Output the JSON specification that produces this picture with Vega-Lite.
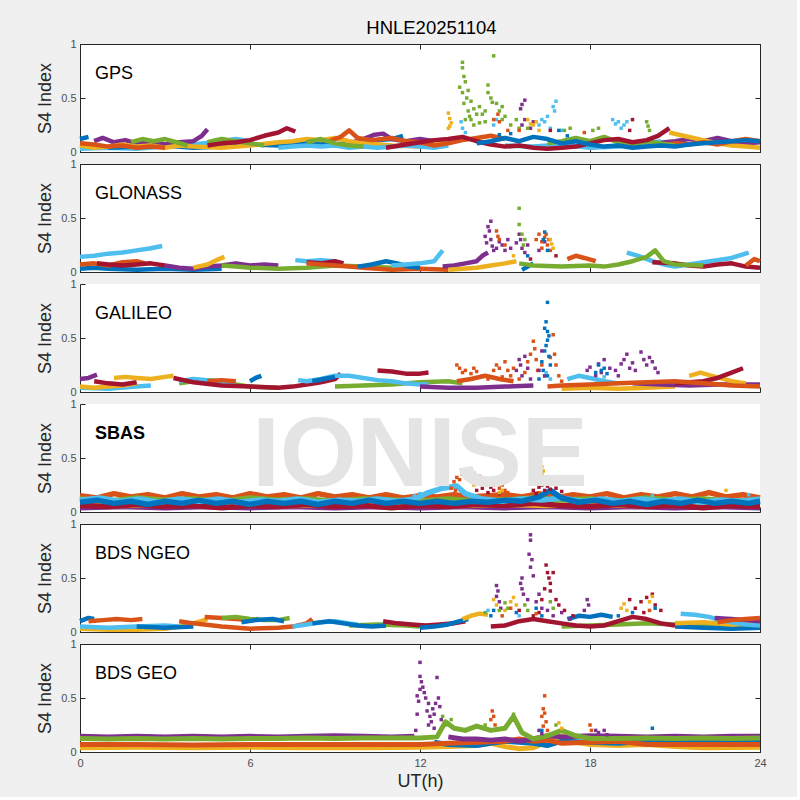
{
"$schema":"https://vega.github.io/schema/vega-lite/v6.json",
"background":"#f0f0f0",
"padding":{"left":36,"top":19,"right":30,"bottom":6},
"bounds":"flush",
"spacing":12,
"title":{"text":"HNLE20251104","fontSize":18.5,"font":"Liberation Sans","fontWeight":"normal","color":"#000000","offset":0,"anchor":"middle","dx":30},
"config":{
 "view":{"fill":"white","stroke":"#262626","strokeWidth":1},
 "font":"Liberation Sans",
 "axis":{"grid":false,"labelFont":"Liberation Sans","labelFontSize":11,"labelColor":"#4d4d4d","titleFont":"Liberation Sans","titleFontSize":18,"titleFontWeight":"normal","titleColor":"#262626","domainColor":"#262626","tickColor":"#262626","labelFlush":false}
},
"datasets":{
"l1":[
{"g":"t","c":6,"t":0,"v":0.03},{"g":"t","c":6,"t":1,"v":0.04},{"g":"t","c":6,"t":2,"v":0.03},{"g":"t","c":6,"t":3,"v":0.05},{"g":"t","c":6,"t":4,"v":0.07},{"g":"t","c":6,"t":5,"v":0.1},{"g":"t","c":6,"t":5.5,"v":0.12},{"g":"t","c":6,"t":6,"v":0.1},
{"g":"q","c":1,"t":1,"v":0.04},{"g":"q","c":1,"t":2,"v":0.05},{"g":"q","c":1,"t":3,"v":0.06},{"g":"q","c":1,"t":4,"v":0.04},{"g":"q","c":1,"t":5,"v":0.05},{"g":"q","c":1,"t":6,"v":0.07},{"g":"q","c":1,"t":7,"v":0.06},{"g":"q","c":1,"t":8,"v":0.08},{"g":"q","c":1,"t":9,"v":0.07},{"g":"q","c":1,"t":10,"v":0.1},{"g":"q","c":1,"t":11,"v":0.12},{"g":"q","c":1,"t":11.4,"v":0.15},
{"g":"a","c":1,"t":0,"v":0.12},{"g":"a","c":1,"t":0.3,"v":0.14},
{"g":"c","c":4,"t":0.5,"v":0.1},{"g":"c","c":4,"t":0.8,"v":0.13},{"g":"c","c":4,"t":1.2,"v":0.09},{"g":"c","c":4,"t":1.6,"v":0.11},{"g":"c","c":4,"t":2,"v":0.08},{"g":"c","c":4,"t":2.5,"v":0.1},{"g":"c","c":4,"t":3,"v":0.07},{"g":"c","c":4,"t":3.5,"v":0.09},{"g":"c","c":4,"t":4,"v":0.1},{"g":"c","c":4,"t":4.3,"v":0.15},{"g":"c","c":4,"t":4.5,"v":0.21},
{"g":"s","c":4,"t":9.5,"v":0.08},{"g":"s","c":4,"t":10,"v":0.12},{"g":"s","c":4,"t":10.4,"v":0.16},{"g":"s","c":4,"t":10.7,"v":0.17},{"g":"s","c":4,"t":11,"v":0.12},{"g":"s","c":4,"t":11.5,"v":0.1},{"g":"s","c":4,"t":12,"v":0.12},{"g":"s","c":4,"t":12.5,"v":0.1},{"g":"s","c":4,"t":13,"v":0.08},
{"g":"d","c":4,"t":20.3,"v":0.08},{"g":"d","c":4,"t":21,"v":0.1},{"g":"d","c":4,"t":21.5,"v":0.12},{"g":"d","c":4,"t":22,"v":0.1},{"g":"d","c":4,"t":22.5,"v":0.13},{"g":"d","c":4,"t":23,"v":0.1},{"g":"d","c":4,"t":23.5,"v":0.08},{"g":"d","c":4,"t":24,"v":0.09},
{"g":"g","c":3,"t":0,"v":0.06},{"g":"g","c":3,"t":0.5,"v":0.04},{"g":"g","c":3,"t":1,"v":0.05},{"g":"g","c":3,"t":1.5,"v":0.07},{"g":"g","c":3,"t":2,"v":0.05},{"g":"g","c":3,"t":2.5,"v":0.06},{"g":"g","c":3,"t":3,"v":0.04},{"g":"g","c":3,"t":3.5,"v":0.06},{"g":"g","c":3,"t":4,"v":0.05},{"g":"g","c":3,"t":5,"v":0.04},{"g":"g","c":3,"t":6,"v":0.06},{"g":"g","c":3,"t":7,"v":0.09},{"g":"g","c":3,"t":7.5,"v":0.1},{"g":"g","c":3,"t":8,"v":0.12},{"g":"g","c":3,"t":8.5,"v":0.11},{"g":"g","c":3,"t":9,"v":0.13},{"g":"g","c":3,"t":9.5,"v":0.1},{"g":"g","c":3,"t":10,"v":0.08},{"g":"g","c":3,"t":11,"v":0.06},{"g":"g","c":3,"t":12,"v":0.05},{"g":"g","c":3,"t":12.5,"v":0.07},{"g":"g","c":3,"t":13,"v":0.09},
{"g":"h","c":3,"t":20.8,"v":0.18},{"g":"h","c":3,"t":21.3,"v":0.15},{"g":"h","c":3,"t":21.8,"v":0.12},{"g":"h","c":3,"t":22.5,"v":0.08},{"g":"h","c":3,"t":23,"v":0.06},{"g":"h","c":3,"t":23.5,"v":0.05},{"g":"h","c":3,"t":24,"v":0.04},
{"g":"i","c":6,"t":7,"v":0.04},{"g":"i","c":6,"t":7.5,"v":0.05},{"g":"i","c":6,"t":8,"v":0.06},{"g":"i","c":6,"t":8.5,"v":0.05},{"g":"i","c":6,"t":9,"v":0.06},{"g":"i","c":6,"t":9.5,"v":0.04},{"g":"i","c":6,"t":10,"v":0.05},{"g":"i","c":6,"t":10.5,"v":0.04},{"g":"i","c":6,"t":11,"v":0.05},{"g":"i","c":6,"t":11.5,"v":0.06},{"g":"i","c":6,"t":12,"v":0.05},{"g":"i","c":6,"t":12.5,"v":0.04},{"g":"i","c":6,"t":13,"v":0.06},
{"g":"p","c":6,"t":15,"v":0.06},{"g":"p","c":6,"t":16,"v":0.05},{"g":"p","c":6,"t":17,"v":0.07},{"g":"p","c":6,"t":18,"v":0.04},{"g":"p","c":6,"t":19,"v":0.05},{"g":"p","c":6,"t":20,"v":0.08},{"g":"p","c":6,"t":20.5,"v":0.1},
{"g":"j","c":2,"t":0,"v":0.08},{"g":"j","c":2,"t":0.5,"v":0.07},{"g":"j","c":2,"t":1,"v":0.05},{"g":"j","c":2,"t":1.5,"v":0.06},{"g":"j","c":2,"t":2,"v":0.04},{"g":"j","c":2,"t":2.5,"v":0.05},{"g":"j","c":2,"t":3,"v":0.04},
{"g":"k","c":2,"t":8.8,"v":0.1},{"g":"k","c":2,"t":9.2,"v":0.14},{"g":"k","c":2,"t":9.5,"v":0.2},{"g":"k","c":2,"t":9.8,"v":0.13},{"g":"k","c":2,"t":10.3,"v":0.11},{"g":"k","c":2,"t":11,"v":0.13},{"g":"k","c":2,"t":11.5,"v":0.1},{"g":"k","c":2,"t":12,"v":0.09},{"g":"k","c":2,"t":12.5,"v":0.06},{"g":"k","c":2,"t":13,"v":0.08},{"g":"k","c":2,"t":13.5,"v":0.11},{"g":"k","c":2,"t":14,"v":0.13},{"g":"k","c":2,"t":14.5,"v":0.15},{"g":"k","c":2,"t":15,"v":0.12},
{"g":"l","c":2,"t":20.5,"v":0.06},{"g":"l","c":2,"t":21,"v":0.08},{"g":"l","c":2,"t":21.5,"v":0.07},{"g":"l","c":2,"t":22,"v":0.09},{"g":"l","c":2,"t":22.5,"v":0.07},{"g":"l","c":2,"t":23,"v":0.1},{"g":"l","c":2,"t":23.5,"v":0.12},{"g":"l","c":2,"t":24,"v":0.1},
{"g":"m","c":5,"t":1.8,"v":0.09},{"g":"m","c":5,"t":2.2,"v":0.12},{"g":"m","c":5,"t":2.6,"v":0.1},{"g":"m","c":5,"t":3,"v":0.12},{"g":"m","c":5,"t":3.4,"v":0.09},{"g":"m","c":5,"t":3.8,"v":0.06},
{"g":"r","c":5,"t":4.5,"v":0.09},{"g":"r","c":5,"t":5,"v":0.12},{"g":"r","c":5,"t":5.5,"v":0.1},{"g":"r","c":5,"t":6,"v":0.08},{"g":"r","c":5,"t":6.5,"v":0.06},
{"g":"n","c":5,"t":8,"v":0.09},{"g":"n","c":5,"t":8.5,"v":0.12},{"g":"n","c":5,"t":9,"v":0.08},{"g":"n","c":5,"t":9.5,"v":0.06},{"g":"n","c":5,"t":10,"v":0.05},
{"g":"o","c":5,"t":16.5,"v":0.08},{"g":"o","c":5,"t":17,"v":0.1},{"g":"o","c":5,"t":17.5,"v":0.13},{"g":"o","c":5,"t":18,"v":0.1},{"g":"o","c":5,"t":18.5,"v":0.14},{"g":"o","c":5,"t":19,"v":0.09},{"g":"o","c":5,"t":19.5,"v":0.07},{"g":"o","c":5,"t":20,"v":0.1},{"g":"o","c":5,"t":20.5,"v":0.08},{"g":"o","c":5,"t":21,"v":0.06},
{"g":"e","c":7,"t":4.5,"v":0.06},{"g":"e","c":7,"t":5,"v":0.08},{"g":"e","c":7,"t":5.5,"v":0.09},{"g":"e","c":7,"t":6,"v":0.11},{"g":"e","c":7,"t":6.5,"v":0.15},{"g":"e","c":7,"t":7,"v":0.18},{"g":"e","c":7,"t":7.3,"v":0.22},{"g":"e","c":7,"t":7.6,"v":0.19},
{"g":"f","c":7,"t":10.8,"v":0.04},{"g":"f","c":7,"t":11.5,"v":0.07},{"g":"f","c":7,"t":12,"v":0.09},{"g":"f","c":7,"t":12.5,"v":0.11},{"g":"f","c":7,"t":13,"v":0.12},{"g":"f","c":7,"t":13.5,"v":0.14},{"g":"f","c":7,"t":14,"v":0.1},{"g":"f","c":7,"t":14.5,"v":0.07},{"g":"f","c":7,"t":15,"v":0.05},{"g":"f","c":7,"t":15.5,"v":0.06},{"g":"f","c":7,"t":16,"v":0.04},{"g":"f","c":7,"t":16.5,"v":0.03},{"g":"f","c":7,"t":17,"v":0.04},{"g":"f","c":7,"t":17.5,"v":0.05},{"g":"f","c":7,"t":18,"v":0.08},{"g":"f","c":7,"t":18.5,"v":0.11},{"g":"f","c":7,"t":19,"v":0.12},{"g":"f","c":7,"t":19.5,"v":0.09},{"g":"f","c":7,"t":20,"v":0.11},{"g":"f","c":7,"t":20.4,"v":0.15},{"g":"f","c":7,"t":20.8,"v":0.22},
{"g":"b","c":1,"t":14,"v":0.08},{"g":"b","c":1,"t":14.5,"v":0.1},{"g":"b","c":1,"t":15,"v":0.13},{"g":"b","c":1,"t":15.5,"v":0.1},{"g":"b","c":1,"t":16,"v":0.14},{"g":"b","c":1,"t":16.5,"v":0.12},{"g":"b","c":1,"t":17,"v":0.08},{"g":"b","c":1,"t":17.5,"v":0.1},{"g":"b","c":1,"t":18,"v":0.07},{"g":"b","c":1,"t":18.5,"v":0.05},{"g":"b","c":1,"t":19,"v":0.06},{"g":"b","c":1,"t":19.5,"v":0.04},{"g":"b","c":1,"t":20,"v":0.05},{"g":"b","c":1,"t":20.5,"v":0.06},{"g":"b","c":1,"t":21,"v":0.05},{"g":"b","c":1,"t":21.5,"v":0.07},{"g":"b","c":1,"t":22,"v":0.08},{"g":"b","c":1,"t":22.5,"v":0.09},{"g":"b","c":1,"t":23,"v":0.1},{"g":"b","c":1,"t":23.5,"v":0.11},{"g":"b","c":1,"t":24,"v":0.1}
],
"p1":[
{"c":3,"t":13.0,"v":0.36},{"c":3,"t":13.05,"v":0.31},{"c":3,"t":13.1,"v":0.27},{"c":3,"t":13.05,"v":0.24},{"c":3,"t":13.0,"v":0.22},
{"c":5,"t":13.5,"v":0.83},{"c":5,"t":13.5,"v":0.78},{"c":5,"t":13.55,"v":0.7},{"c":5,"t":13.6,"v":0.65},{"c":5,"t":13.4,"v":0.6},{"c":5,"t":13.5,"v":0.55},{"c":5,"t":13.7,"v":0.57},{"c":5,"t":13.65,"v":0.5},{"c":5,"t":13.55,"v":0.45},{"c":5,"t":13.8,"v":0.47},{"c":5,"t":13.9,"v":0.4},{"c":5,"t":13.7,"v":0.38},{"c":5,"t":14.0,"v":0.35},{"c":5,"t":13.75,"v":0.33},{"c":5,"t":13.6,"v":0.3},{"c":5,"t":14.1,"v":0.42},{"c":5,"t":14.2,"v":0.35},{"c":5,"t":14.3,"v":0.38},{"c":5,"t":14.4,"v":0.55},{"c":5,"t":14.5,"v":0.5},{"c":5,"t":14.55,"v":0.46},{"c":5,"t":14.6,"v":0.89},{"c":5,"t":14.4,"v":0.62},{"c":5,"t":14.7,"v":0.45},{"c":5,"t":14.8,"v":0.38},{"c":5,"t":14.3,"v":0.28},{"c":5,"t":14.9,"v":0.3},{"c":5,"t":15.0,"v":0.33},{"c":5,"t":14.9,"v":0.42},{"c":5,"t":15.2,"v":0.25},{"c":5,"t":14.1,"v":0.27},{"c":5,"t":13.9,"v":0.25},{"c":5,"t":15.4,"v":0.3},{"c":5,"t":15.5,"v":0.22},{"c":5,"t":13.8,"v":0.3},
{"c":6,"t":13.45,"v":0.28},{"c":6,"t":13.5,"v":0.22},{"c":6,"t":13.6,"v":0.18},{"c":6,"t":14.7,"v":0.3},{"c":6,"t":14.6,"v":0.25},{"c":6,"t":16.3,"v":0.3},{"c":6,"t":16.4,"v":0.28},{"c":6,"t":16.5,"v":0.33},{"c":6,"t":16.2,"v":0.25},{"c":6,"t":16.7,"v":0.42},{"c":6,"t":16.75,"v":0.38},{"c":6,"t":16.8,"v":0.47},{"c":6,"t":18.8,"v":0.3},{"c":6,"t":18.9,"v":0.26},{"c":6,"t":19.0,"v":0.28},{"c":6,"t":19.2,"v":0.25},{"c":6,"t":19.3,"v":0.28},{"c":6,"t":19.1,"v":0.22},{"c":6,"t":17.0,"v":0.2},{"c":6,"t":16.6,"v":0.22},
{"c":2,"t":14.75,"v":0.35},{"c":2,"t":14.6,"v":0.3},{"c":2,"t":14.8,"v":0.28},{"c":2,"t":15.1,"v":0.2},{"c":2,"t":15.5,"v":0.2},{"c":2,"t":17.8,"v":0.18},
{"c":4,"t":15.6,"v":0.44},{"c":4,"t":15.7,"v":0.48},{"c":4,"t":15.55,"v":0.4},{"c":4,"t":15.7,"v":0.3},{"c":4,"t":15.6,"v":0.25},{"c":4,"t":15.9,"v":0.22},{"c":4,"t":16.0,"v":0.28},
{"c":3,"t":15.8,"v":0.3},{"c":3,"t":16.0,"v":0.25},{"c":3,"t":16.2,"v":0.2},{"c":3,"t":16.1,"v":0.28},{"c":3,"t":15.9,"v":0.26},
{"c":7,"t":19.5,"v":0.3},{"c":7,"t":19.4,"v":0.2},{"c":7,"t":16.6,"v":0.2},
{"c":5,"t":15.8,"v":0.22},{"c":5,"t":17.1,"v":0.2},{"c":5,"t":17.3,"v":0.22},{"c":5,"t":18.1,"v":0.2},{"c":5,"t":18.3,"v":0.22},{"c":5,"t":20.0,"v":0.28},{"c":5,"t":20.05,"v":0.24},{"c":5,"t":20.1,"v":0.2},
{"c":1,"t":16.9,"v":0.2},{"c":1,"t":17.2,"v":0.15},{"c":1,"t":15.2,"v":0.17},{"c":1,"t":14.8,"v":0.16}
],
"l2":[
{"g":"a","c":6,"t":0,"v":0.14},{"g":"a","c":6,"t":0.5,"v":0.15},{"g":"a","c":6,"t":1,"v":0.17},{"g":"a","c":6,"t":1.5,"v":0.18},{"g":"a","c":6,"t":2,"v":0.2},{"g":"a","c":6,"t":2.5,"v":0.22},{"g":"a","c":6,"t":2.9,"v":0.24},
{"g":"d","c":1,"t":0,"v":0.03},{"g":"d","c":1,"t":0.5,"v":0.04},{"g":"d","c":1,"t":1,"v":0.03},{"g":"d","c":1,"t":2,"v":0.02},{"g":"d","c":1,"t":3,"v":0.03},{"g":"d","c":1,"t":4,"v":0.02},{"g":"d","c":1,"t":5,"v":0.03},
{"g":"c","c":2,"t":0,"v":0.07},{"g":"c","c":2,"t":0.5,"v":0.08},{"g":"c","c":2,"t":1,"v":0.06},{"g":"c","c":2,"t":1.5,"v":0.09},{"g":"c","c":2,"t":2,"v":0.1},{"g":"c","c":2,"t":2.3,"v":0.08},
{"g":"b","c":7,"t":0.6,"v":0.08},{"g":"b","c":7,"t":1,"v":0.07},{"g":"b","c":7,"t":1.5,"v":0.06},{"g":"b","c":7,"t":2,"v":0.07},{"g":"b","c":7,"t":2.5,"v":0.08},{"g":"b","c":7,"t":3,"v":0.06},
{"g":"e","c":4,"t":3,"v":0.06},{"g":"e","c":4,"t":3.5,"v":0.04},{"g":"e","c":4,"t":4,"v":0.03},{"g":"e","c":4,"t":4.5,"v":0.05},{"g":"e","c":4,"t":5,"v":0.06},{"g":"e","c":4,"t":5.5,"v":0.08},{"g":"e","c":4,"t":6,"v":0.06},{"g":"e","c":4,"t":6.5,"v":0.07},{"g":"e","c":4,"t":7,"v":0.06},
{"g":"f","c":3,"t":4,"v":0.04},{"g":"f","c":3,"t":4.5,"v":0.07},{"g":"f","c":3,"t":4.9,"v":0.12},{"g":"f","c":3,"t":5.1,"v":0.14},
{"g":"g","c":5,"t":5,"v":0.06},{"g":"g","c":5,"t":5.5,"v":0.05},{"g":"g","c":5,"t":6,"v":0.04},{"g":"g","c":5,"t":7,"v":0.03},{"g":"g","c":5,"t":8,"v":0.04},{"g":"g","c":5,"t":9,"v":0.06},{"g":"g","c":5,"t":10,"v":0.05},{"g":"g","c":5,"t":11,"v":0.04},{"g":"g","c":5,"t":12,"v":0.03},
{"g":"h","c":6,"t":7.6,"v":0.11},{"g":"h","c":6,"t":8,"v":0.1},{"g":"h","c":6,"t":8.5,"v":0.11},{"g":"h","c":6,"t":9,"v":0.1},
{"g":"k","c":7,"t":8.0,"v":0.09},{"g":"k","c":7,"t":8.5,"v":0.08},{"g":"k","c":7,"t":9.0,"v":0.1},{"g":"k","c":7,"t":9.3,"v":0.08},
{"g":"i","c":2,"t":8,"v":0.08},{"g":"i","c":2,"t":8.5,"v":0.07},{"g":"i","c":2,"t":9,"v":0.06},{"g":"i","c":2,"t":9.5,"v":0.05},{"g":"i","c":2,"t":10,"v":0.04},{"g":"i","c":2,"t":10.5,"v":0.03},{"g":"i","c":2,"t":11,"v":0.02},{"g":"i","c":2,"t":12,"v":0.03},{"g":"i","c":2,"t":13,"v":0.02},
{"g":"j","c":1,"t":9.8,"v":0.05},{"g":"j","c":1,"t":10.3,"v":0.07},{"g":"j","c":1,"t":10.8,"v":0.1},{"g":"j","c":1,"t":11.2,"v":0.08},{"g":"j","c":1,"t":11.6,"v":0.05},{"g":"j","c":1,"t":12,"v":0.04},
{"g":"l","c":6,"t":11,"v":0.06},{"g":"l","c":6,"t":11.5,"v":0.07},{"g":"l","c":6,"t":12,"v":0.08},{"g":"l","c":6,"t":12.5,"v":0.1},{"g":"l","c":6,"t":12.8,"v":0.2},
{"g":"m","c":4,"t":12.8,"v":0.05},{"g":"m","c":4,"t":13.2,"v":0.06},{"g":"m","c":4,"t":13.6,"v":0.08},{"g":"m","c":4,"t":14,"v":0.1},{"g":"m","c":4,"t":14.2,"v":0.15},{"g":"m","c":4,"t":14.4,"v":0.18},
{"g":"n","c":3,"t":13,"v":0.02},{"g":"n","c":3,"t":14,"v":0.04},{"g":"n","c":3,"t":14.5,"v":0.06},{"g":"n","c":3,"t":15,"v":0.08},{"g":"n","c":3,"t":15.4,"v":0.1},
{"g":"s","c":1,"t":15.6,"v":0.02},{"g":"s","c":1,"t":15.8,"v":0.05},{"g":"s","c":1,"t":16.0,"v":0.08},
{"g":"r","c":2,"t":17.2,"v":0.12},{"g":"r","c":2,"t":17.5,"v":0.15},{"g":"r","c":2,"t":17.8,"v":0.13},{"g":"r","c":2,"t":18.2,"v":0.1},
{"g":"p","c":6,"t":19.3,"v":0.18},{"g":"p","c":6,"t":19.7,"v":0.15},{"g":"p","c":6,"t":20.2,"v":0.1},{"g":"p","c":6,"t":20.6,"v":0.07},{"g":"p","c":6,"t":21,"v":0.05},{"g":"p","c":6,"t":21.5,"v":0.07},{"g":"p","c":6,"t":22,"v":0.09},{"g":"p","c":6,"t":22.5,"v":0.11},{"g":"p","c":6,"t":23,"v":0.13},{"g":"p","c":6,"t":23.6,"v":0.18},
{"g":"q","c":7,"t":20.2,"v":0.09},{"g":"q","c":7,"t":21,"v":0.08},{"g":"q","c":7,"t":21.5,"v":0.06},{"g":"q","c":7,"t":22,"v":0.05},{"g":"q","c":7,"t":22.5,"v":0.07},{"g":"q","c":7,"t":23,"v":0.08},{"g":"q","c":7,"t":23.5,"v":0.05},{"g":"q","c":7,"t":24,"v":0.04},
{"g":"t","c":2,"t":23.5,"v":0.06},{"g":"t","c":2,"t":23.8,"v":0.12},{"g":"t","c":2,"t":24,"v":0.1},
{"g":"o","c":5,"t":15.5,"v":0.08},{"g":"o","c":5,"t":16,"v":0.06},{"g":"o","c":5,"t":17,"v":0.05},{"g":"o","c":5,"t":18,"v":0.06},{"g":"o","c":5,"t":18.5,"v":0.05},{"g":"o","c":5,"t":19,"v":0.07},{"g":"o","c":5,"t":19.5,"v":0.1},{"g":"o","c":5,"t":20,"v":0.14},{"g":"o","c":5,"t":20.3,"v":0.2},{"g":"o","c":5,"t":20.6,"v":0.1},{"g":"o","c":5,"t":21,"v":0.07},{"g":"o","c":5,"t":22,"v":0.06}
],
"p2":[
{"c":4,"t":14.5,"v":0.47},{"c":4,"t":14.4,"v":0.42},{"c":4,"t":14.45,"v":0.38},{"c":4,"t":14.3,"v":0.33},{"c":4,"t":14.5,"v":0.3},{"c":4,"t":14.35,"v":0.27},{"c":4,"t":14.55,"v":0.24},{"c":4,"t":14.6,"v":0.2},{"c":4,"t":14.7,"v":0.22},{"c":4,"t":14.8,"v":0.28},{"c":4,"t":14.9,"v":0.25},{"c":4,"t":15.0,"v":0.2},{"c":4,"t":15.1,"v":0.3},{"c":4,"t":15.2,"v":0.22},{"c":4,"t":15.4,"v":0.27},{"c":4,"t":15.5,"v":0.35},{"c":4,"t":15.55,"v":0.3},{"c":4,"t":15.6,"v":0.22},{"c":4,"t":15.7,"v":0.18},{"c":4,"t":15.8,"v":0.25},{"c":4,"t":16.2,"v":0.2},{"c":4,"t":16.4,"v":0.28},
{"c":2,"t":14.7,"v":0.38},{"c":2,"t":14.75,"v":0.33},{"c":2,"t":14.8,"v":0.3},{"c":2,"t":15.0,"v":0.25},{"c":2,"t":16.1,"v":0.3},{"c":2,"t":16.2,"v":0.35},{"c":2,"t":16.3,"v":0.28},{"c":2,"t":16.4,"v":0.32},{"c":2,"t":16.5,"v":0.25},{"c":2,"t":16.55,"v":0.3},{"c":2,"t":16.6,"v":0.2},{"c":2,"t":16.3,"v":0.22},{"c":2,"t":16.45,"v":0.35},
{"c":5,"t":15.5,"v":0.59},{"c":5,"t":15.5,"v":0.44},{"c":5,"t":15.6,"v":0.35},{"c":5,"t":15.7,"v":0.3},{"c":5,"t":15.65,"v":0.25},
{"c":1,"t":16.4,"v":0.37},{"c":1,"t":16.35,"v":0.3},{"c":1,"t":16.5,"v":0.2},{"c":1,"t":15.8,"v":0.15},
{"c":3,"t":16.6,"v":0.3},{"c":3,"t":16.65,"v":0.26},{"c":3,"t":16.7,"v":0.22},{"c":3,"t":15.3,"v":0.15},
{"c":7,"t":16.8,"v":0.15},{"c":7,"t":15.9,"v":0.12}
],
"l3":[
{"g":"e","c":6,"t":0,"v":0.04},{"g":"e","c":6,"t":1,"v":0.03},{"g":"e","c":6,"t":2,"v":0.05},{"g":"e","c":6,"t":2.5,"v":0.06},
{"g":"d","c":3,"t":0,"v":0.05},{"g":"d","c":3,"t":0.5,"v":0.04},{"g":"d","c":3,"t":1,"v":0.05},{"g":"d","c":3,"t":1.5,"v":0.06},{"g":"d","c":3,"t":2,"v":0.08},
{"g":"a","c":4,"t":0,"v":0.12},{"g":"a","c":4,"t":0.3,"v":0.13},{"g":"a","c":4,"t":0.6,"v":0.16},
{"g":"b","c":7,"t":0.5,"v":0.1},{"g":"b","c":7,"t":1,"v":0.08},{"g":"b","c":7,"t":1.5,"v":0.07},{"g":"b","c":7,"t":2,"v":0.09},
{"g":"c","c":3,"t":1.2,"v":0.13},{"g":"c","c":3,"t":1.6,"v":0.14},{"g":"c","c":3,"t":2,"v":0.13},{"g":"c","c":3,"t":2.5,"v":0.12},{"g":"c","c":3,"t":3,"v":0.14},{"g":"c","c":3,"t":3.3,"v":0.15},
{"g":"g","c":5,"t":3.5,"v":0.08},{"g":"g","c":5,"t":4,"v":0.1},{"g":"g","c":5,"t":4.5,"v":0.11},{"g":"g","c":5,"t":5,"v":0.1},{"g":"g","c":5,"t":5.5,"v":0.07},{"g":"g","c":5,"t":6,"v":0.05},{"g":"g","c":5,"t":7,"v":0.04},
{"g":"h","c":6,"t":3.5,"v":0.1},{"g":"h","c":6,"t":4,"v":0.12},{"g":"h","c":6,"t":4.5,"v":0.11},{"g":"h","c":6,"t":5,"v":0.09},{"g":"h","c":6,"t":5.5,"v":0.08},
{"g":"i","c":2,"t":4.5,"v":0.1},{"g":"i","c":2,"t":5,"v":0.11},{"g":"i","c":2,"t":5.5,"v":0.1},
{"g":"f","c":7,"t":3.3,"v":0.13},{"g":"f","c":7,"t":4,"v":0.09},{"g":"f","c":7,"t":5,"v":0.06},{"g":"f","c":7,"t":6,"v":0.05},{"g":"f","c":7,"t":7,"v":0.04},{"g":"f","c":7,"t":7.5,"v":0.05},{"g":"f","c":7,"t":8,"v":0.07},{"g":"f","c":7,"t":8.5,"v":0.09},{"g":"f","c":7,"t":9,"v":0.12},{"g":"f","c":7,"t":9.2,"v":0.17},
{"g":"j","c":1,"t":6,"v":0.1},{"g":"j","c":1,"t":6.2,"v":0.13},{"g":"j","c":1,"t":6.4,"v":0.15},
{"g":"n","c":5,"t":9,"v":0.05},{"g":"n","c":5,"t":10,"v":0.06},{"g":"n","c":5,"t":11,"v":0.07},{"g":"n","c":5,"t":12,"v":0.09},{"g":"n","c":5,"t":13,"v":0.1},{"g":"n","c":5,"t":13.5,"v":0.08},
{"g":"k","c":6,"t":7.7,"v":0.11},{"g":"k","c":6,"t":8,"v":0.1},{"g":"k","c":6,"t":8.5,"v":0.12},{"g":"k","c":6,"t":9,"v":0.15},{"g":"k","c":6,"t":9.5,"v":0.15},{"g":"k","c":6,"t":10,"v":0.13},{"g":"k","c":6,"t":10.5,"v":0.11},{"g":"k","c":6,"t":11,"v":0.1},{"g":"k","c":6,"t":11.5,"v":0.08},{"g":"k","c":6,"t":12,"v":0.07},{"g":"k","c":6,"t":12.3,"v":0.07},
{"g":"l","c":1,"t":8.2,"v":0.1},{"g":"l","c":1,"t":8.6,"v":0.12},{"g":"l","c":1,"t":9,"v":0.14},
{"g":"m","c":7,"t":10.5,"v":0.2},{"g":"m","c":7,"t":11,"v":0.19},{"g":"m","c":7,"t":11.5,"v":0.17},{"g":"m","c":7,"t":12,"v":0.17},{"g":"m","c":7,"t":12.3,"v":0.18},
{"g":"o","c":4,"t":12,"v":0.05},{"g":"o","c":4,"t":13,"v":0.04},{"g":"o","c":4,"t":14,"v":0.04},{"g":"o","c":4,"t":15,"v":0.05},{"g":"o","c":4,"t":16,"v":0.06},
{"g":"v","c":2,"t":13.3,"v":0.1},{"g":"v","c":2,"t":13.8,"v":0.12},{"g":"v","c":2,"t":14.3,"v":0.15},{"g":"v","c":2,"t":14.8,"v":0.12},{"g":"v","c":2,"t":15.3,"v":0.1},
{"g":"t","c":3,"t":17,"v":0.03},{"g":"t","c":3,"t":18,"v":0.04},{"g":"t","c":3,"t":19,"v":0.03},{"g":"t","c":3,"t":20,"v":0.04},{"g":"t","c":3,"t":21,"v":0.05},
{"g":"u","c":6,"t":17.2,"v":0.12},{"g":"u","c":6,"t":17.6,"v":0.15},{"g":"u","c":6,"t":18,"v":0.13},{"g":"u","c":6,"t":18.5,"v":0.1},{"g":"u","c":6,"t":19,"v":0.08},
{"g":"s","c":4,"t":19.5,"v":0.08},{"g":"s","c":4,"t":20.5,"v":0.07},{"g":"s","c":4,"t":21.5,"v":0.06},{"g":"s","c":4,"t":22.5,"v":0.07},{"g":"s","c":4,"t":23.5,"v":0.07},{"g":"s","c":4,"t":24,"v":0.07},
{"g":"r","c":3,"t":21.5,"v":0.15},{"g":"r","c":3,"t":21.9,"v":0.18},{"g":"r","c":3,"t":22.3,"v":0.15},{"g":"r","c":3,"t":23,"v":0.1},{"g":"r","c":3,"t":23.5,"v":0.08},
{"g":"q","c":7,"t":21,"v":0.08},{"g":"q","c":7,"t":21.5,"v":0.09},{"g":"q","c":7,"t":22,"v":0.1},{"g":"q","c":7,"t":22.5,"v":0.13},{"g":"q","c":7,"t":23,"v":0.18},{"g":"q","c":7,"t":23.4,"v":0.22},
{"g":"p","c":2,"t":16.5,"v":0.05},{"g":"p","c":2,"t":17,"v":0.06},{"g":"p","c":2,"t":18,"v":0.07},{"g":"p","c":2,"t":19,"v":0.08},{"g":"p","c":2,"t":20,"v":0.09},{"g":"p","c":2,"t":21,"v":0.1},{"g":"p","c":2,"t":22,"v":0.08},{"g":"p","c":2,"t":23,"v":0.06},{"g":"p","c":2,"t":24,"v":0.05}
],
"p3":[
{"c":2,"t":13.3,"v":0.25},{"c":2,"t":13.4,"v":0.22},{"c":2,"t":13.5,"v":0.18},{"c":2,"t":13.6,"v":0.2},{"c":2,"t":13.8,"v":0.17},{"c":2,"t":13.9,"v":0.22},{"c":2,"t":14.0,"v":0.19},{"c":2,"t":14.2,"v":0.15},{"c":2,"t":14.4,"v":0.12},{"c":2,"t":14.6,"v":0.2},{"c":2,"t":14.7,"v":0.25},{"c":2,"t":14.8,"v":0.22},{"c":2,"t":14.9,"v":0.14},{"c":2,"t":15.0,"v":0.28},{"c":2,"t":15.1,"v":0.2},{"c":2,"t":15.2,"v":0.15},{"c":2,"t":15.3,"v":0.22},{"c":2,"t":15.5,"v":0.12},{"c":2,"t":15.7,"v":0.18},{"c":2,"t":15.8,"v":0.28},{"c":2,"t":15.9,"v":0.35},{"c":2,"t":16.0,"v":0.47},{"c":2,"t":16.05,"v":0.4},{"c":2,"t":16.1,"v":0.3},{"c":2,"t":16.15,"v":0.2},{"c":2,"t":16.3,"v":0.25},{"c":2,"t":16.4,"v":0.15},{"c":2,"t":16.6,"v":0.32},{"c":2,"t":16.7,"v":0.53},{"c":2,"t":16.75,"v":0.35},{"c":2,"t":16.8,"v":0.25},{"c":2,"t":16.9,"v":0.15},{"c":2,"t":17.0,"v":0.1},
{"c":4,"t":15.4,"v":0.2},{"c":4,"t":15.5,"v":0.3},{"c":4,"t":15.55,"v":0.25},{"c":4,"t":15.6,"v":0.15},{"c":4,"t":15.7,"v":0.33},{"c":4,"t":15.8,"v":0.22},{"c":4,"t":15.9,"v":0.12},{"c":4,"t":16.2,"v":0.2},{"c":4,"t":16.3,"v":0.38},{"c":4,"t":16.4,"v":0.15},{"c":4,"t":17.9,"v":0.2},{"c":4,"t":18.0,"v":0.23},{"c":4,"t":18.2,"v":0.15},{"c":4,"t":18.3,"v":0.26},{"c":4,"t":18.4,"v":0.18},{"c":4,"t":18.5,"v":0.3},{"c":4,"t":18.7,"v":0.22},{"c":4,"t":18.9,"v":0.2},{"c":4,"t":19.1,"v":0.26},{"c":4,"t":19.2,"v":0.3},{"c":4,"t":19.3,"v":0.35},{"c":4,"t":19.4,"v":0.22},{"c":4,"t":19.5,"v":0.27},{"c":4,"t":19.6,"v":0.2},{"c":4,"t":19.8,"v":0.37},{"c":4,"t":19.9,"v":0.3},{"c":4,"t":20.0,"v":0.25},{"c":4,"t":20.1,"v":0.32},{"c":4,"t":20.2,"v":0.28},{"c":4,"t":20.3,"v":0.22},{"c":4,"t":20.4,"v":0.18},{"c":4,"t":19.0,"v":0.15},
{"c":1,"t":16.5,"v":0.83},{"c":1,"t":16.45,"v":0.65},{"c":1,"t":16.4,"v":0.59},{"c":1,"t":16.5,"v":0.56},{"c":1,"t":16.55,"v":0.52},{"c":1,"t":16.5,"v":0.48},{"c":1,"t":16.45,"v":0.43},{"c":1,"t":16.4,"v":0.38},{"c":1,"t":16.55,"v":0.33},{"c":1,"t":16.3,"v":0.28},{"c":1,"t":16.6,"v":0.25},{"c":1,"t":16.35,"v":0.2},{"c":1,"t":16.5,"v":0.15},{"c":1,"t":16.2,"v":0.12},{"c":1,"t":18.3,"v":0.25},{"c":1,"t":18.4,"v":0.2},{"c":1,"t":18.5,"v":0.22},{"c":1,"t":18.6,"v":0.17},{"c":1,"t":18.2,"v":0.18},
{"c":6,"t":16.45,"v":0.18},{"c":6,"t":16.6,"v":0.12},{"c":6,"t":18.2,"v":0.12},{"c":6,"t":18.5,"v":0.14}
],
"l4":[
{"g":"f","c":4,"t":0,"v":0.04},{"g":"f","c":4,"t":1.5,"v":0.05},{"g":"f","c":4,"t":3,"v":0.04},{"g":"f","c":4,"t":4.5,"v":0.05},{"g":"f","c":4,"t":6,"v":0.04},{"g":"f","c":4,"t":7.5,"v":0.05},{"g":"f","c":4,"t":9,"v":0.04},{"g":"f","c":4,"t":10.5,"v":0.05},{"g":"f","c":4,"t":12,"v":0.04},{"g":"f","c":4,"t":13.5,"v":0.05},{"g":"f","c":4,"t":15,"v":0.04},{"g":"f","c":4,"t":16.5,"v":0.05},{"g":"f","c":4,"t":18,"v":0.04},{"g":"f","c":4,"t":19.5,"v":0.05},{"g":"f","c":4,"t":21,"v":0.04},{"g":"f","c":4,"t":22.5,"v":0.05},{"g":"f","c":4,"t":24,"v":0.04},
{"g":"g","c":3,"t":0,"v":0.07},{"g":"g","c":3,"t":1.5,"v":0.06},{"g":"g","c":3,"t":3,"v":0.07},{"g":"g","c":3,"t":4.5,"v":0.06},{"g":"g","c":3,"t":6,"v":0.07},{"g":"g","c":3,"t":7.5,"v":0.06},{"g":"g","c":3,"t":9,"v":0.07},{"g":"g","c":3,"t":10.5,"v":0.06},{"g":"g","c":3,"t":12,"v":0.07},{"g":"g","c":3,"t":13.5,"v":0.06},{"g":"g","c":3,"t":15,"v":0.07},{"g":"g","c":3,"t":16.5,"v":0.06},{"g":"g","c":3,"t":18,"v":0.07},{"g":"g","c":3,"t":19.5,"v":0.06},{"g":"g","c":3,"t":21,"v":0.07},{"g":"g","c":3,"t":22.5,"v":0.06},{"g":"g","c":3,"t":24,"v":0.07},
{"g":"e","c":7,"t":0,"v":0.06},{"g":"e","c":7,"t":1,"v":0.05},{"g":"e","c":7,"t":2,"v":0.07},{"g":"e","c":7,"t":3,"v":0.05},{"g":"e","c":7,"t":4,"v":0.06},{"g":"e","c":7,"t":5,"v":0.04},{"g":"e","c":7,"t":6,"v":0.06},{"g":"e","c":7,"t":7,"v":0.05},{"g":"e","c":7,"t":8,"v":0.07},{"g":"e","c":7,"t":9,"v":0.05},{"g":"e","c":7,"t":10,"v":0.06},{"g":"e","c":7,"t":11,"v":0.04},{"g":"e","c":7,"t":12,"v":0.06},{"g":"e","c":7,"t":13,"v":0.05},{"g":"e","c":7,"t":14,"v":0.07},{"g":"e","c":7,"t":15,"v":0.06},{"g":"e","c":7,"t":16,"v":0.08},{"g":"e","c":7,"t":17,"v":0.06},{"g":"e","c":7,"t":18,"v":0.05},{"g":"e","c":7,"t":19,"v":0.07},{"g":"e","c":7,"t":20,"v":0.05},{"g":"e","c":7,"t":21,"v":0.06},{"g":"e","c":7,"t":22,"v":0.04},{"g":"e","c":7,"t":23,"v":0.06},{"g":"e","c":7,"t":24,"v":0.05},
{"g":"a","c":2,"t":0,"v":0.15},{"g":"a","c":2,"t":0.6,"v":0.13},{"g":"a","c":2,"t":1.2,"v":0.17},{"g":"a","c":2,"t":1.8,"v":0.14},{"g":"a","c":2,"t":2.4,"v":0.16},{"g":"a","c":2,"t":3,"v":0.13},{"g":"a","c":2,"t":3.6,"v":0.17},{"g":"a","c":2,"t":4.2,"v":0.14},{"g":"a","c":2,"t":4.8,"v":0.16},{"g":"a","c":2,"t":5.4,"v":0.13},{"g":"a","c":2,"t":6,"v":0.17},{"g":"a","c":2,"t":6.6,"v":0.14},{"g":"a","c":2,"t":7.2,"v":0.16},{"g":"a","c":2,"t":7.8,"v":0.13},{"g":"a","c":2,"t":8.4,"v":0.17},{"g":"a","c":2,"t":9,"v":0.14},{"g":"a","c":2,"t":9.6,"v":0.16},{"g":"a","c":2,"t":10.2,"v":0.13},{"g":"a","c":2,"t":10.8,"v":0.16},{"g":"a","c":2,"t":11.4,"v":0.13},{"g":"a","c":2,"t":12,"v":0.15},{"g":"a","c":2,"t":12.6,"v":0.14},{"g":"a","c":2,"t":13.2,"v":0.16},{"g":"a","c":2,"t":13.8,"v":0.14},{"g":"a","c":2,"t":14.4,"v":0.15},{"g":"a","c":2,"t":15,"v":0.16},{"g":"a","c":2,"t":15.6,"v":0.14},{"g":"a","c":2,"t":16.2,"v":0.17},{"g":"a","c":2,"t":16.8,"v":0.13},{"g":"a","c":2,"t":17.4,"v":0.16},{"g":"a","c":2,"t":18,"v":0.14},{"g":"a","c":2,"t":18.6,"v":0.17},{"g":"a","c":2,"t":19.2,"v":0.13},{"g":"a","c":2,"t":19.8,"v":0.16},{"g":"a","c":2,"t":20.4,"v":0.14},{"g":"a","c":2,"t":21,"v":0.17},{"g":"a","c":2,"t":21.6,"v":0.14},{"g":"a","c":2,"t":22.2,"v":0.18},{"g":"a","c":2,"t":22.8,"v":0.14},{"g":"a","c":2,"t":23.4,"v":0.16},{"g":"a","c":2,"t":24,"v":0.13},
{"g":"b","c":5,"t":0,"v":0.12},{"g":"b","c":5,"t":1,"v":0.1},{"g":"b","c":5,"t":2,"v":0.13},{"g":"b","c":5,"t":3,"v":0.11},{"g":"b","c":5,"t":4,"v":0.12},{"g":"b","c":5,"t":5,"v":0.1},{"g":"b","c":5,"t":6,"v":0.13},{"g":"b","c":5,"t":7,"v":0.11},{"g":"b","c":5,"t":8,"v":0.12},{"g":"b","c":5,"t":9,"v":0.1},{"g":"b","c":5,"t":10,"v":0.12},{"g":"b","c":5,"t":11,"v":0.11},{"g":"b","c":5,"t":12,"v":0.1},{"g":"b","c":5,"t":13,"v":0.12},{"g":"b","c":5,"t":14,"v":0.1},{"g":"b","c":5,"t":15,"v":0.11},{"g":"b","c":5,"t":16,"v":0.13},{"g":"b","c":5,"t":17,"v":0.11},{"g":"b","c":5,"t":18,"v":0.12},{"g":"b","c":5,"t":19,"v":0.1},{"g":"b","c":5,"t":20,"v":0.13},{"g":"b","c":5,"t":21,"v":0.11},{"g":"b","c":5,"t":22,"v":0.12},{"g":"b","c":5,"t":23,"v":0.1},{"g":"b","c":5,"t":24,"v":0.11},
{"g":"c","c":6,"t":0,"v":0.11},{"g":"c","c":6,"t":0.7,"v":0.13},{"g":"c","c":6,"t":1.4,"v":0.1},{"g":"c","c":6,"t":2.1,"v":0.12},{"g":"c","c":6,"t":2.8,"v":0.09},{"g":"c","c":6,"t":3.5,"v":0.12},{"g":"c","c":6,"t":4.2,"v":0.1},{"g":"c","c":6,"t":4.9,"v":0.12},{"g":"c","c":6,"t":5.6,"v":0.09},{"g":"c","c":6,"t":6.3,"v":0.11},{"g":"c","c":6,"t":7,"v":0.1},{"g":"c","c":6,"t":7.7,"v":0.12},{"g":"c","c":6,"t":8.4,"v":0.09},{"g":"c","c":6,"t":9.1,"v":0.11},{"g":"c","c":6,"t":9.8,"v":0.1},{"g":"c","c":6,"t":10.5,"v":0.12},{"g":"c","c":6,"t":11.2,"v":0.1},{"g":"c","c":6,"t":11.8,"v":0.12},{"g":"c","c":6,"t":12.3,"v":0.18},{"g":"c","c":6,"t":12.8,"v":0.22},{"g":"c","c":6,"t":13.3,"v":0.24},{"g":"c","c":6,"t":13.6,"v":0.17},{"g":"c","c":6,"t":14.2,"v":0.12},{"g":"c","c":6,"t":14.9,"v":0.1},{"g":"c","c":6,"t":15.6,"v":0.12},{"g":"c","c":6,"t":16.3,"v":0.11},{"g":"c","c":6,"t":17,"v":0.13},{"g":"c","c":6,"t":17.7,"v":0.1},{"g":"c","c":6,"t":18.4,"v":0.12},{"g":"c","c":6,"t":19.1,"v":0.1},{"g":"c","c":6,"t":19.8,"v":0.12},{"g":"c","c":6,"t":20.5,"v":0.1},{"g":"c","c":6,"t":21.2,"v":0.12},{"g":"c","c":6,"t":21.9,"v":0.09},{"g":"c","c":6,"t":22.6,"v":0.11},{"g":"c","c":6,"t":23.3,"v":0.1},{"g":"c","c":6,"t":24,"v":0.12},
{"g":"d","c":1,"t":0,"v":0.09},{"g":"d","c":1,"t":0.6,"v":0.11},{"g":"d","c":1,"t":1.2,"v":0.08},{"g":"d","c":1,"t":1.8,"v":0.1},{"g":"d","c":1,"t":2.4,"v":0.07},{"g":"d","c":1,"t":3,"v":0.1},{"g":"d","c":1,"t":3.6,"v":0.08},{"g":"d","c":1,"t":4.2,"v":0.11},{"g":"d","c":1,"t":4.8,"v":0.08},{"g":"d","c":1,"t":5.4,"v":0.1},{"g":"d","c":1,"t":6,"v":0.07},{"g":"d","c":1,"t":6.6,"v":0.1},{"g":"d","c":1,"t":7.2,"v":0.08},{"g":"d","c":1,"t":7.8,"v":0.1},{"g":"d","c":1,"t":8.4,"v":0.07},{"g":"d","c":1,"t":9,"v":0.1},{"g":"d","c":1,"t":9.6,"v":0.08},{"g":"d","c":1,"t":10.2,"v":0.11},{"g":"d","c":1,"t":10.8,"v":0.08},{"g":"d","c":1,"t":11.4,"v":0.1},{"g":"d","c":1,"t":12,"v":0.08},{"g":"d","c":1,"t":12.6,"v":0.1},{"g":"d","c":1,"t":13.2,"v":0.08},{"g":"d","c":1,"t":13.8,"v":0.1},{"g":"d","c":1,"t":14.4,"v":0.09},{"g":"d","c":1,"t":15,"v":0.11},{"g":"d","c":1,"t":15.6,"v":0.1},{"g":"d","c":1,"t":16.2,"v":0.14},{"g":"d","c":1,"t":16.6,"v":0.2},{"g":"d","c":1,"t":17,"v":0.13},{"g":"d","c":1,"t":17.6,"v":0.09},{"g":"d","c":1,"t":18.2,"v":0.11},{"g":"d","c":1,"t":18.8,"v":0.08},{"g":"d","c":1,"t":19.4,"v":0.1},{"g":"d","c":1,"t":20,"v":0.07},{"g":"d","c":1,"t":20.6,"v":0.1},{"g":"d","c":1,"t":21.2,"v":0.08},{"g":"d","c":1,"t":21.8,"v":0.11},{"g":"d","c":1,"t":22.4,"v":0.08},{"g":"d","c":1,"t":23,"v":0.1},{"g":"d","c":1,"t":23.6,"v":0.08},{"g":"d","c":1,"t":24,"v":0.1}
],
"p4":[
{"c":2,"t":13.2,"v":0.28},{"c":2,"t":13.3,"v":0.32},{"c":2,"t":13.4,"v":0.3},{"c":2,"t":13.5,"v":0.35},{"c":2,"t":13.6,"v":0.33},{"c":2,"t":13.7,"v":0.37},{"c":2,"t":13.8,"v":0.34},{"c":2,"t":13.9,"v":0.36},{"c":2,"t":14.0,"v":0.3},{"c":2,"t":14.1,"v":0.33},{"c":2,"t":14.2,"v":0.28},{"c":2,"t":14.3,"v":0.3},{"c":2,"t":14.4,"v":0.26},{"c":2,"t":14.5,"v":0.3},{"c":2,"t":14.6,"v":0.25},{"c":2,"t":14.7,"v":0.27},{"c":2,"t":14.8,"v":0.22},{"c":2,"t":14.9,"v":0.25},{"c":2,"t":15.0,"v":0.2},{"c":2,"t":13.1,"v":0.22},{"c":2,"t":13.25,"v":0.2},{"c":2,"t":15.1,"v":0.18},
{"c":7,"t":14.0,"v":0.2},{"c":7,"t":14.2,"v":0.22},{"c":7,"t":14.4,"v":0.18},{"c":7,"t":14.5,"v":0.23},{"c":7,"t":14.6,"v":0.2},{"c":7,"t":14.8,"v":0.17},{"c":7,"t":16.0,"v":0.2},{"c":7,"t":16.2,"v":0.23},{"c":7,"t":16.3,"v":0.25},{"c":7,"t":16.4,"v":0.2},{"c":7,"t":16.5,"v":0.24},{"c":7,"t":16.6,"v":0.21},{"c":7,"t":16.8,"v":0.22},{"c":7,"t":17.0,"v":0.19},{"c":7,"t":16.1,"v":0.17},
{"c":3,"t":16.3,"v":0.42},{"c":3,"t":16.35,"v":0.38},{"c":3,"t":16.3,"v":0.35},{"c":3,"t":14.9,"v":0.2},{"c":3,"t":14.8,"v":0.18},{"c":3,"t":13.9,"v":0.25},{"c":3,"t":22.8,"v":0.2},
{"c":6,"t":11.8,"v":0.15},{"c":6,"t":12.0,"v":0.17},{"c":6,"t":23.6,"v":0.16},{"c":6,"t":20.2,"v":0.15}
],
"l5":[
{"g":"d","c":3,"t":0,"v":0.03},{"g":"d","c":3,"t":1,"v":0.02},{"g":"d","c":3,"t":2,"v":0.02},{"g":"d","c":3,"t":3,"v":0.03},{"g":"d","c":3,"t":3.5,"v":0.05},{"g":"d","c":3,"t":4,"v":0.08},{"g":"d","c":3,"t":4.5,"v":0.12},
{"g":"c","c":6,"t":0,"v":0.05},{"g":"c","c":6,"t":1,"v":0.04},{"g":"c","c":6,"t":2,"v":0.05},{"g":"c","c":6,"t":3,"v":0.06},{"g":"c","c":6,"t":3.5,"v":0.05},
{"g":"a","c":1,"t":0,"v":0.1},{"g":"a","c":1,"t":0.3,"v":0.13},{"g":"a","c":1,"t":0.5,"v":0.12},
{"g":"b","c":2,"t":0.3,"v":0.1},{"g":"b","c":2,"t":0.8,"v":0.11},{"g":"b","c":2,"t":1.3,"v":0.12},{"g":"b","c":2,"t":1.8,"v":0.11},{"g":"b","c":2,"t":2.2,"v":0.12},
{"g":"e","c":1,"t":2,"v":0.05},{"g":"e","c":1,"t":3,"v":0.04},{"g":"e","c":1,"t":4,"v":0.05},
{"g":"f","c":2,"t":3.5,"v":0.1},{"g":"f","c":2,"t":4,"v":0.08},{"g":"f","c":2,"t":5,"v":0.05},{"g":"f","c":2,"t":6,"v":0.03},{"g":"f","c":2,"t":7,"v":0.04},{"g":"f","c":2,"t":7.5,"v":0.05},{"g":"f","c":2,"t":8,"v":0.08},{"g":"f","c":2,"t":8.2,"v":0.12},
{"g":"g","c":2,"t":4.4,"v":0.14},{"g":"g","c":2,"t":5,"v":0.13},{"g":"g","c":2,"t":5.5,"v":0.12},{"g":"g","c":2,"t":6,"v":0.11},{"g":"g","c":2,"t":6.3,"v":0.12},
{"g":"h","c":5,"t":5,"v":0.13},{"g":"h","c":5,"t":5.5,"v":0.14},{"g":"h","c":5,"t":6,"v":0.12},{"g":"h","c":5,"t":6.5,"v":0.11},{"g":"h","c":5,"t":7,"v":0.11},{"g":"h","c":5,"t":7.4,"v":0.13},
{"g":"i","c":1,"t":5.7,"v":0.09},{"g":"i","c":1,"t":6.2,"v":0.11},{"g":"i","c":1,"t":6.8,"v":0.12},{"g":"i","c":1,"t":7.2,"v":0.1},
{"g":"j","c":6,"t":7.5,"v":0.05},{"g":"j","c":6,"t":8,"v":0.07},{"g":"j","c":6,"t":8.5,"v":0.09},{"g":"j","c":6,"t":9,"v":0.1},{"g":"j","c":6,"t":9.5,"v":0.08},{"g":"j","c":6,"t":9.8,"v":0.07},
{"g":"n","c":5,"t":9.5,"v":0.06},{"g":"n","c":5,"t":10.5,"v":0.07},{"g":"n","c":5,"t":11.5,"v":0.06},{"g":"n","c":5,"t":12,"v":0.05},
{"g":"k","c":1,"t":8.2,"v":0.08},{"g":"k","c":1,"t":8.8,"v":0.1},{"g":"k","c":1,"t":9.3,"v":0.08},{"g":"k","c":1,"t":9.8,"v":0.06},{"g":"k","c":1,"t":10.3,"v":0.05},{"g":"k","c":1,"t":10.8,"v":0.06},
{"g":"l","c":7,"t":10.7,"v":0.1},{"g":"l","c":7,"t":11.2,"v":0.08},{"g":"l","c":7,"t":11.7,"v":0.07},{"g":"l","c":7,"t":12.2,"v":0.06},{"g":"l","c":7,"t":12.7,"v":0.07},{"g":"l","c":7,"t":13.2,"v":0.08},{"g":"l","c":7,"t":13.6,"v":0.1},
{"g":"m","c":1,"t":12,"v":0.04},{"g":"m","c":1,"t":12.5,"v":0.05},{"g":"m","c":1,"t":13,"v":0.07},{"g":"m","c":1,"t":13.4,"v":0.1},{"g":"m","c":1,"t":13.7,"v":0.12},
{"g":"o","c":3,"t":13.5,"v":0.12},{"g":"o","c":3,"t":13.8,"v":0.15},{"g":"o","c":3,"t":14.1,"v":0.17},{"g":"o","c":3,"t":14.4,"v":0.16},
{"g":"r","c":5,"t":17,"v":0.05},{"g":"r","c":5,"t":18,"v":0.06},{"g":"r","c":5,"t":19,"v":0.07},{"g":"r","c":5,"t":20,"v":0.08},{"g":"r","c":5,"t":21,"v":0.07},{"g":"r","c":5,"t":22,"v":0.06},{"g":"r","c":5,"t":23,"v":0.05},{"g":"r","c":5,"t":24,"v":0.06},
{"g":"w","c":1,"t":21,"v":0.05},{"g":"w","c":1,"t":22,"v":0.04},{"g":"w","c":1,"t":23,"v":0.03},{"g":"w","c":1,"t":24,"v":0.04},
{"g":"v","c":3,"t":21,"v":0.08},{"g":"v","c":3,"t":22,"v":0.09},{"g":"v","c":3,"t":23,"v":0.07},{"g":"v","c":3,"t":24,"v":0.08},
{"g":"p","c":7,"t":14.5,"v":0.05},{"g":"p","c":7,"t":15,"v":0.06},{"g":"p","c":7,"t":15.5,"v":0.1},{"g":"p","c":7,"t":16,"v":0.12},{"g":"p","c":7,"t":16.5,"v":0.1},{"g":"p","c":7,"t":17,"v":0.08},{"g":"p","c":7,"t":17.5,"v":0.06},{"g":"p","c":7,"t":18,"v":0.05},{"g":"p","c":7,"t":18.5,"v":0.06},{"g":"p","c":7,"t":19,"v":0.1},{"g":"p","c":7,"t":19.5,"v":0.14},{"g":"p","c":7,"t":20,"v":0.12},{"g":"p","c":7,"t":20.5,"v":0.08},{"g":"p","c":7,"t":21,"v":0.06},
{"g":"q","c":1,"t":17.2,"v":0.12},{"g":"q","c":1,"t":17.6,"v":0.15},{"g":"q","c":1,"t":18,"v":0.14},{"g":"q","c":1,"t":18.4,"v":0.16},{"g":"q","c":1,"t":18.8,"v":0.14},
{"g":"s","c":6,"t":21.2,"v":0.17},{"g":"s","c":6,"t":21.7,"v":0.16},{"g":"s","c":6,"t":22.2,"v":0.14},{"g":"s","c":6,"t":22.6,"v":0.11},{"g":"s","c":6,"t":23,"v":0.09},{"g":"s","c":6,"t":23.5,"v":0.07},{"g":"s","c":6,"t":24,"v":0.06},
{"g":"t","c":4,"t":22.4,"v":0.13},{"g":"t","c":4,"t":23,"v":0.12},{"g":"t","c":4,"t":23.5,"v":0.11},{"g":"t","c":4,"t":24,"v":0.1},
{"g":"u","c":2,"t":22.5,"v":0.09},{"g":"u","c":2,"t":23,"v":0.11},{"g":"u","c":2,"t":23.5,"v":0.12},{"g":"u","c":2,"t":24,"v":0.13}
],
"p5":[
{"c":4,"t":14.7,"v":0.43},{"c":4,"t":14.75,"v":0.38},{"c":4,"t":14.7,"v":0.33},{"c":4,"t":14.8,"v":0.28},{"c":4,"t":14.85,"v":0.22},{"c":4,"t":15.6,"v":0.5},{"c":4,"t":15.55,"v":0.45},{"c":4,"t":15.6,"v":0.4},{"c":4,"t":15.65,"v":0.35},{"c":4,"t":15.9,"v":0.9},{"c":4,"t":15.9,"v":0.85},{"c":4,"t":15.85,"v":0.72},{"c":4,"t":15.95,"v":0.67},{"c":4,"t":15.9,"v":0.6},{"c":4,"t":16.0,"v":0.52},{"c":4,"t":15.8,"v":0.3},{"c":4,"t":16.1,"v":0.28},{"c":4,"t":16.2,"v":0.35},{"c":4,"t":16.3,"v":0.22},{"c":4,"t":16.5,"v":0.2},{"c":4,"t":17.9,"v":0.3},{"c":4,"t":17.95,"v":0.25},{"c":4,"t":17.8,"v":0.2},{"c":4,"t":16.7,"v":0.15},{"c":4,"t":17.0,"v":0.18},{"c":4,"t":17.3,"v":0.12},
{"c":7,"t":16.45,"v":0.62},{"c":7,"t":16.5,"v":0.55},{"c":7,"t":16.55,"v":0.5},{"c":7,"t":16.6,"v":0.45},{"c":7,"t":16.7,"v":0.55},{"c":7,"t":16.6,"v":0.38},{"c":7,"t":16.4,"v":0.4},{"c":7,"t":16.8,"v":0.3},{"c":7,"t":16.9,"v":0.25},{"c":7,"t":16.3,"v":0.3},{"c":7,"t":16.2,"v":0.18},{"c":7,"t":17.1,"v":0.2},{"c":7,"t":17.4,"v":0.15},{"c":7,"t":16.0,"v":0.15},{"c":7,"t":15.5,"v":0.2},{"c":7,"t":19.4,"v":0.3},{"c":7,"t":19.6,"v":0.22},{"c":7,"t":19.8,"v":0.28},{"c":7,"t":20.0,"v":0.32},{"c":7,"t":20.2,"v":0.35},{"c":7,"t":20.3,"v":0.25},{"c":7,"t":19.9,"v":0.18},{"c":7,"t":20.5,"v":0.2},
{"c":3,"t":14.6,"v":0.3},{"c":3,"t":14.7,"v":0.25},{"c":3,"t":15.2,"v":0.28},{"c":3,"t":15.3,"v":0.32},{"c":3,"t":15.4,"v":0.25},{"c":3,"t":15.0,"v":0.2},{"c":3,"t":19.2,"v":0.26},{"c":3,"t":19.1,"v":0.22},{"c":3,"t":19.3,"v":0.2},{"c":3,"t":20.2,"v":0.33},{"c":3,"t":20.1,"v":0.28},
{"c":5,"t":14.8,"v":0.2},{"c":5,"t":15.0,"v":0.27},{"c":5,"t":15.1,"v":0.22},{"c":5,"t":15.7,"v":0.25},{"c":5,"t":15.8,"v":0.2},{"c":5,"t":16.6,"v":0.28},{"c":5,"t":16.7,"v":0.22},{"c":5,"t":14.3,"v":0.18},
{"c":1,"t":14.5,"v":0.15},{"c":1,"t":14.6,"v":0.2},{"c":1,"t":15.4,"v":0.18},{"c":1,"t":16.1,"v":0.22},{"c":1,"t":16.3,"v":0.15},{"c":1,"t":19.0,"v":0.15},{"c":1,"t":19.5,"v":0.18},{"c":1,"t":20.3,"v":0.22},
{"c":2,"t":14.9,"v":0.15},{"c":2,"t":15.2,"v":0.22},{"c":2,"t":16.1,"v":0.17},{"c":2,"t":20.1,"v":0.2},
{"c":6,"t":14.4,"v":0.2},{"c":6,"t":15.5,"v":0.15}
],
"l6":[
{"g":"f","c":3,"t":0,"v":0.04},{"g":"f","c":3,"t":2,"v":0.045},{"g":"f","c":3,"t":4,"v":0.04},{"g":"f","c":3,"t":6,"v":0.045},{"g":"f","c":3,"t":8,"v":0.04},{"g":"f","c":3,"t":10,"v":0.04},{"g":"f","c":3,"t":12,"v":0.045},{"g":"f","c":3,"t":13,"v":0.05},{"g":"f","c":3,"t":14,"v":0.06},{"g":"f","c":3,"t":14.5,"v":0.08},{"g":"f","c":3,"t":15,"v":0.05},{"g":"f","c":3,"t":15.5,"v":0.03},{"g":"f","c":3,"t":16,"v":0.04},{"g":"f","c":3,"t":16.5,"v":0.1},{"g":"f","c":3,"t":17,"v":0.15},{"g":"f","c":3,"t":17.3,"v":0.1},{"g":"f","c":3,"t":18,"v":0.07},{"g":"f","c":3,"t":19,"v":0.06},{"g":"f","c":3,"t":20,"v":0.07},{"g":"f","c":3,"t":21,"v":0.05},{"g":"f","c":3,"t":22,"v":0.04},{"g":"f","c":3,"t":24,"v":0.045},
{"g":"d","c":1,"t":12.5,"v":0.09},{"g":"d","c":1,"t":13,"v":0.07},{"g":"d","c":1,"t":14,"v":0.06},{"g":"d","c":1,"t":14.5,"v":0.08},{"g":"d","c":1,"t":15,"v":0.1},{"g":"d","c":1,"t":16,"v":0.08},{"g":"d","c":1,"t":16.5,"v":0.06},{"g":"d","c":1,"t":17,"v":0.1},{"g":"d","c":1,"t":18,"v":0.09},{"g":"d","c":1,"t":19,"v":0.08},{"g":"d","c":1,"t":20,"v":0.1},{"g":"d","c":1,"t":21,"v":0.09},{"g":"d","c":1,"t":24,"v":0.09},
{"g":"e","c":2,"t":0,"v":0.07},{"g":"e","c":2,"t":2,"v":0.07},{"g":"e","c":2,"t":4,"v":0.065},{"g":"e","c":2,"t":6,"v":0.07},{"g":"e","c":2,"t":8,"v":0.07},{"g":"e","c":2,"t":10,"v":0.07},{"g":"e","c":2,"t":12,"v":0.07},{"g":"e","c":2,"t":13,"v":0.08},{"g":"e","c":2,"t":14,"v":0.09},{"g":"e","c":2,"t":15,"v":0.1},{"g":"e","c":2,"t":15.5,"v":0.12},{"g":"e","c":2,"t":16,"v":0.1},{"g":"e","c":2,"t":16.5,"v":0.11},{"g":"e","c":2,"t":17,"v":0.08},{"g":"e","c":2,"t":18,"v":0.09},{"g":"e","c":2,"t":19,"v":0.1},{"g":"e","c":2,"t":20,"v":0.07},{"g":"e","c":2,"t":22,"v":0.07},{"g":"e","c":2,"t":24,"v":0.07},
{"g":"a","c":4,"t":0,"v":0.145},{"g":"a","c":4,"t":1,"v":0.14},{"g":"a","c":4,"t":2,"v":0.145},{"g":"a","c":4,"t":3,"v":0.14},{"g":"a","c":4,"t":4,"v":0.145},{"g":"a","c":4,"t":5,"v":0.14},{"g":"a","c":4,"t":6,"v":0.145},{"g":"a","c":4,"t":7,"v":0.14},{"g":"a","c":4,"t":8,"v":0.145},{"g":"a","c":4,"t":9,"v":0.15},{"g":"a","c":4,"t":10,"v":0.145},{"g":"a","c":4,"t":11,"v":0.14},{"g":"a","c":4,"t":11.8,"v":0.145},
{"g":"c","c":4,"t":13,"v":0.14},{"g":"c","c":4,"t":13.5,"v":0.12},{"g":"c","c":4,"t":14,"v":0.12},{"g":"c","c":4,"t":14.5,"v":0.11},{"g":"c","c":4,"t":15,"v":0.12},{"g":"c","c":4,"t":15.5,"v":0.1},{"g":"c","c":4,"t":16,"v":0.12},{"g":"c","c":4,"t":16.5,"v":0.15},{"g":"c","c":4,"t":17,"v":0.14},{"g":"c","c":4,"t":18,"v":0.15},{"g":"c","c":4,"t":19,"v":0.145},{"g":"c","c":4,"t":20,"v":0.14},{"g":"c","c":4,"t":21,"v":0.145},{"g":"c","c":4,"t":22,"v":0.14},{"g":"c","c":4,"t":23,"v":0.145},{"g":"c","c":4,"t":24,"v":0.145},
{"g":"b","c":5,"t":0,"v":0.125},{"g":"b","c":5,"t":1,"v":0.12},{"g":"b","c":5,"t":2,"v":0.125},{"g":"b","c":5,"t":3,"v":0.12},{"g":"b","c":5,"t":4,"v":0.125},{"g":"b","c":5,"t":5,"v":0.12},{"g":"b","c":5,"t":6,"v":0.125},{"g":"b","c":5,"t":7,"v":0.125},{"g":"b","c":5,"t":8,"v":0.13},{"g":"b","c":5,"t":9,"v":0.125},{"g":"b","c":5,"t":10,"v":0.13},{"g":"b","c":5,"t":11,"v":0.13},{"g":"b","c":5,"t":12,"v":0.13},{"g":"b","c":5,"t":12.6,"v":0.14},{"g":"b","c":5,"t":12.9,"v":0.28},{"g":"b","c":5,"t":13.2,"v":0.22},{"g":"b","c":5,"t":13.6,"v":0.2},{"g":"b","c":5,"t":14,"v":0.24},{"g":"b","c":5,"t":14.5,"v":0.2},{"g":"b","c":5,"t":15,"v":0.22},{"g":"b","c":5,"t":15.3,"v":0.33},{"g":"b","c":5,"t":15.6,"v":0.18},{"g":"b","c":5,"t":16,"v":0.12},{"g":"b","c":5,"t":16.5,"v":0.15},{"g":"b","c":5,"t":17,"v":0.2},{"g":"b","c":5,"t":17.5,"v":0.15},{"g":"b","c":5,"t":18,"v":0.125},{"g":"b","c":5,"t":19,"v":0.125},{"g":"b","c":5,"t":20,"v":0.13},{"g":"b","c":5,"t":21,"v":0.125},{"g":"b","c":5,"t":22,"v":0.13},{"g":"b","c":5,"t":23,"v":0.125},{"g":"b","c":5,"t":24,"v":0.13}
],
"p6":[
{"c":4,"t":11.85,"v":0.2},{"c":4,"t":11.9,"v":0.35},{"c":4,"t":11.95,"v":0.47},{"c":4,"t":11.9,"v":0.52},{"c":4,"t":12.0,"v":0.83},{"c":4,"t":12.0,"v":0.7},{"c":4,"t":12.05,"v":0.65},{"c":4,"t":12.1,"v":0.6},{"c":4,"t":12.15,"v":0.55},{"c":4,"t":12.2,"v":0.5},{"c":4,"t":12.0,"v":0.58},{"c":4,"t":12.3,"v":0.45},{"c":4,"t":12.25,"v":0.38},{"c":4,"t":12.35,"v":0.33},{"c":4,"t":12.4,"v":0.28},{"c":4,"t":12.45,"v":0.4},{"c":4,"t":12.5,"v":0.35},{"c":4,"t":12.55,"v":0.45},{"c":4,"t":12.6,"v":0.69},{"c":4,"t":12.65,"v":0.5},{"c":4,"t":12.7,"v":0.42},{"c":4,"t":12.75,"v":0.3},{"c":4,"t":12.3,"v":0.25},{"c":4,"t":12.5,"v":0.22},{"c":4,"t":16.2,"v":0.2},{"c":4,"t":16.3,"v":0.17},{"c":4,"t":18.2,"v":0.2},{"c":4,"t":18.3,"v":0.18},{"c":4,"t":18.5,"v":0.2},{"c":4,"t":18.6,"v":0.16},
{"c":5,"t":12.8,"v":0.33},{"c":5,"t":12.9,"v":0.25},{"c":5,"t":13.1,"v":0.3},{"c":5,"t":15.3,"v":0.35},{"c":5,"t":15.2,"v":0.3},{"c":5,"t":14.3,"v":0.25},{"c":5,"t":16.8,"v":0.25},
{"c":2,"t":14.55,"v":0.38},{"c":2,"t":14.6,"v":0.33},{"c":2,"t":14.5,"v":0.3},{"c":2,"t":14.65,"v":0.25},{"c":2,"t":16.4,"v":0.52},{"c":2,"t":16.35,"v":0.4},{"c":2,"t":16.4,"v":0.36},{"c":2,"t":16.3,"v":0.33},{"c":2,"t":16.45,"v":0.28},{"c":2,"t":16.35,"v":0.24},{"c":2,"t":16.5,"v":0.2},{"c":2,"t":18.0,"v":0.25},{"c":2,"t":18.05,"v":0.2},
{"c":1,"t":20.2,"v":0.22},{"c":1,"t":16.3,"v":0.2},
{"c":3,"t":16.9,"v":0.27},{"c":3,"t":17.0,"v":0.22}
]
},
"vconcat":[
{"width":680,"height":108,"resolve":{"axis":{"x":"independent","y":"independent"}},"layer":[
 {"data":{"name":"l1"},"mark":{"type":"line","strokeWidth":4.5,"strokeJoin":"round"},"encoding":{"x":{"field":"t","type":"quantitative","scale":{"domain":[0,24],"nice":false},"axis":{"values":[0,6,12,18,24],"labels":false,"title":null,"tickSize":-5}},"y":{"field":"v","type":"quantitative","scale":{"domain":[0,1],"nice":false},"axis":{"values":[0,0.5,1],"format":"~g","title":"S4 Index","tickSize":-5,"labelPadding":9,"titlePadding":6}},"color":{"field":"c","type":"nominal","scale":{"domain":[1,2,3,4,5,6,7],"range":["#0072BD","#D95319","#EDB120","#7E2F8E","#77AC30","#4DBEEE","#A2142F"]},"legend":null},"detail":{"field":"g"}}},
 {"data":{"name":"p1"},"mark":{"type":"square","size":12,"opacity":1},"encoding":{"x":{"field":"t","type":"quantitative","axis":null},"y":{"field":"v","type":"quantitative","axis":null},"color":{"field":"c","type":"nominal","legend":null}}},
 {"data":{"name":"l1"},"mark":{"type":"line","opacity":0},"encoding":{"x":{"field":"t","type":"quantitative","axis":{"orient":"top","values":[0,6,12,18,24],"labels":false,"domain":false,"title":null,"tickSize":-5}},"y":{"field":"v","type":"quantitative","axis":{"orient":"right","values":[0,0.5,1],"labels":false,"domain":false,"title":null,"tickSize":-5}},"detail":{"field":"g"}}},
 {"data":{"values":[{"n":"GPS"}]},"mark":{"type":"text","align":"left","baseline":"middle","fontSize":18,"font":"Liberation Sans","color":"#000000"},"encoding":{"text":{"field":"n"},"x":{"datum":0.53,"axis":null},"y":{"datum":0.72,"axis":null}}}
]},
{"width":680,"height":108,"resolve":{"axis":{"x":"independent","y":"independent"}},"layer":[
 {"data":{"name":"l2"},"mark":{"type":"line","strokeWidth":4.5,"strokeJoin":"round"},"encoding":{"x":{"field":"t","type":"quantitative","scale":{"domain":[0,24],"nice":false},"axis":{"values":[0,6,12,18,24],"labels":false,"title":null,"tickSize":-5}},"y":{"field":"v","type":"quantitative","scale":{"domain":[0,1],"nice":false},"axis":{"values":[0,0.5,1],"format":"~g","title":"S4 Index","tickSize":-5,"labelPadding":9,"titlePadding":6}},"color":{"field":"c","type":"nominal","scale":{"domain":[1,2,3,4,5,6,7],"range":["#0072BD","#D95319","#EDB120","#7E2F8E","#77AC30","#4DBEEE","#A2142F"]},"legend":null},"detail":{"field":"g"}}},
 {"data":{"name":"p2"},"mark":{"type":"square","size":12,"opacity":1},"encoding":{"x":{"field":"t","type":"quantitative","axis":null},"y":{"field":"v","type":"quantitative","axis":null},"color":{"field":"c","type":"nominal","legend":null}}},
 {"data":{"name":"l2"},"mark":{"type":"line","opacity":0},"encoding":{"x":{"field":"t","type":"quantitative","axis":{"orient":"top","values":[0,6,12,18,24],"labels":false,"domain":false,"title":null,"tickSize":-5}},"y":{"field":"v","type":"quantitative","axis":{"orient":"right","values":[0,0.5,1],"labels":false,"domain":false,"title":null,"tickSize":-5}},"detail":{"field":"g"}}},
 {"data":{"values":[{"n":"GLONASS"}]},"mark":{"type":"text","align":"left","baseline":"middle","fontSize":18,"font":"Liberation Sans","color":"#000000"},"encoding":{"text":{"field":"n"},"x":{"datum":0.53,"axis":null},"y":{"datum":0.72,"axis":null}}}
]},
{"width":680,"height":108,"view":{"stroke":null,"fill":"white"},"layer":[
 {"data":{"name":"l3"},"mark":{"type":"line","strokeWidth":4.5,"strokeJoin":"round"},"encoding":{"x":{"field":"t","type":"quantitative","scale":{"domain":[0,24],"nice":false},"axis":{"values":[0,6,12,18,24],"labels":false,"title":null,"tickSize":-5}},"y":{"field":"v","type":"quantitative","scale":{"domain":[0,1],"nice":false},"axis":{"values":[0,0.5,1],"format":"~g","title":"S4 Index","tickSize":-5,"labelPadding":9,"titlePadding":6}},"color":{"field":"c","type":"nominal","scale":{"domain":[1,2,3,4,5,6,7],"range":["#0072BD","#D95319","#EDB120","#7E2F8E","#77AC30","#4DBEEE","#A2142F"]},"legend":null},"detail":{"field":"g"}}},
 {"data":{"name":"p3"},"mark":{"type":"square","size":12,"opacity":1},"encoding":{"x":{"field":"t","type":"quantitative"},"y":{"field":"v","type":"quantitative"},"color":{"field":"c","type":"nominal","legend":null}}},
 {"data":{"values":[{"n":"GALILEO"}]},"mark":{"type":"text","align":"left","baseline":"middle","fontSize":18,"font":"Liberation Sans","color":"#000000"},"encoding":{"text":{"field":"n"},"x":{"datum":0.53},"y":{"datum":0.72}}}
]},
{"width":680,"height":108,"view":{"stroke":null,"fill":"white"},"layer":[
 {"data":{"name":"l4"},"mark":{"type":"line","strokeWidth":5.5,"strokeJoin":"round"},"encoding":{"x":{"field":"t","type":"quantitative","scale":{"domain":[0,24],"nice":false},"axis":{"values":[0,6,12,18,24],"labels":false,"title":null,"tickSize":-5}},"y":{"field":"v","type":"quantitative","scale":{"domain":[0,1],"nice":false},"axis":{"values":[0,0.5,1],"format":"~g","title":"S4 Index","tickSize":-5,"labelPadding":9,"titlePadding":6}},"color":{"field":"c","type":"nominal","scale":{"domain":[1,2,3,4,5,6,7],"range":["#0072BD","#D95319","#EDB120","#7E2F8E","#77AC30","#4DBEEE","#A2142F"]},"legend":null},"detail":{"field":"g"}}},
 {"data":{"name":"p4"},"mark":{"type":"square","size":12,"opacity":1},"encoding":{"x":{"field":"t","type":"quantitative"},"y":{"field":"v","type":"quantitative"},"color":{"field":"c","type":"nominal","legend":null}}},
 {"data":{"values":[{"w":"IONISE"}]},"mark":{"type":"text","align":"center","baseline":"alphabetic","fontSize":99,"font":"Liberation Sans","fontWeight":"bold","color":"#e4e4e4"},"encoding":{"text":{"field":"w"},"x":{"datum":12},"y":{"datum":0.24}}},
 {"data":{"values":[{"n":"SBAS"}]},"mark":{"type":"text","align":"left","baseline":"middle","fontSize":18,"font":"Liberation Sans","fontWeight":"bold","color":"#000000"},"encoding":{"text":{"field":"n"},"x":{"datum":0.53},"y":{"datum":0.72}}}
]},
{"width":680,"height":108,"resolve":{"axis":{"x":"independent","y":"independent"}},"layer":[
 {"data":{"name":"l5"},"mark":{"type":"line","strokeWidth":4.5,"strokeJoin":"round"},"encoding":{"x":{"field":"t","type":"quantitative","scale":{"domain":[0,24],"nice":false},"axis":{"values":[0,6,12,18,24],"labels":false,"title":null,"tickSize":-5}},"y":{"field":"v","type":"quantitative","scale":{"domain":[0,1],"nice":false},"axis":{"values":[0,0.5,1],"format":"~g","title":"S4 Index","tickSize":-5,"labelPadding":9,"titlePadding":6}},"color":{"field":"c","type":"nominal","scale":{"domain":[1,2,3,4,5,6,7],"range":["#0072BD","#D95319","#EDB120","#7E2F8E","#77AC30","#4DBEEE","#A2142F"]},"legend":null},"detail":{"field":"g"}}},
 {"data":{"name":"p5"},"mark":{"type":"square","size":12,"opacity":1},"encoding":{"x":{"field":"t","type":"quantitative","axis":null},"y":{"field":"v","type":"quantitative","axis":null},"color":{"field":"c","type":"nominal","legend":null}}},
 {"data":{"name":"l5"},"mark":{"type":"line","opacity":0},"encoding":{"x":{"field":"t","type":"quantitative","axis":{"orient":"top","values":[0,6,12,18,24],"labels":false,"domain":false,"title":null,"tickSize":-5}},"y":{"field":"v","type":"quantitative","axis":{"orient":"right","values":[0,0.5,1],"labels":false,"domain":false,"title":null,"tickSize":-5}},"detail":{"field":"g"}}},
 {"data":{"values":[{"n":"BDS NGEO"}]},"mark":{"type":"text","align":"left","baseline":"middle","fontSize":18,"font":"Liberation Sans","color":"#000000"},"encoding":{"text":{"field":"n"},"x":{"datum":0.53,"axis":null},"y":{"datum":0.72,"axis":null}}}
]},
{"width":680,"height":108,"resolve":{"axis":{"x":"independent","y":"independent"}},"layer":[
 {"data":{"name":"l6"},"mark":{"type":"line","strokeWidth":5,"strokeJoin":"round"},"encoding":{"x":{"field":"t","type":"quantitative","scale":{"domain":[0,24],"nice":false},"axis":{"values":[0,6,12,18,24],"labels":true,"title":"UT(h)","tickSize":-5,"labelPadding":10,"titlePadding":4}},"y":{"field":"v","type":"quantitative","scale":{"domain":[0,1],"nice":false},"axis":{"values":[0,0.5,1],"format":"~g","title":"S4 Index","tickSize":-5,"labelPadding":9,"titlePadding":6}},"color":{"field":"c","type":"nominal","scale":{"domain":[1,2,3,4,5,6,7],"range":["#0072BD","#D95319","#EDB120","#7E2F8E","#77AC30","#4DBEEE","#A2142F"]},"legend":null},"detail":{"field":"g"}}},
 {"data":{"name":"p6"},"mark":{"type":"square","size":12,"opacity":1},"encoding":{"x":{"field":"t","type":"quantitative","axis":null},"y":{"field":"v","type":"quantitative","axis":null},"color":{"field":"c","type":"nominal","legend":null}}},
 {"data":{"name":"l6"},"mark":{"type":"line","opacity":0},"encoding":{"x":{"field":"t","type":"quantitative","axis":{"orient":"top","values":[0,6,12,18,24],"labels":false,"domain":false,"title":null,"tickSize":-5}},"y":{"field":"v","type":"quantitative","axis":{"orient":"right","values":[0,0.5,1],"labels":false,"domain":false,"title":null,"tickSize":-5}},"detail":{"field":"g"}}},
 {"data":{"values":[{"n":"BDS GEO"}]},"mark":{"type":"text","align":"left","baseline":"middle","fontSize":18,"font":"Liberation Sans","color":"#000000"},"encoding":{"text":{"field":"n"},"x":{"datum":0.53,"axis":null},"y":{"datum":0.72,"axis":null}}}
]}
]
}
